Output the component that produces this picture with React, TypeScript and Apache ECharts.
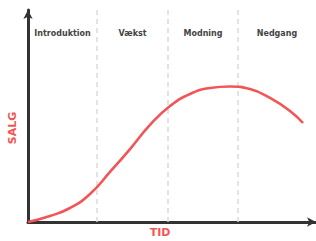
import React, { useEffect, useRef } from "react";
import * as echarts from "echarts";

const phases = ["Introduktion", "Vækst", "Modning", "Nedgang"];
const phaseBounds = [0, 24, 48.6, 72.9, 100];
const curveX = [0, 7.64, 14.58, 21.53, 28.47, 35.42, 42.36, 49.31, 56.25, 63.19, 70.14, 77.08, 84.03, 90.97, 95.49];
const curveY = [0, 2.83, 6.6, 13.2, 23.6, 34.4, 45.8, 54.7, 60.4, 63.2, 63.9, 62.7, 58.5, 52.4, 46.7];
const yLabel = "SALG";
const xLabel = "TID";

export default function App() {
  const ref = useRef<HTMLDivElement>(null);
  useEffect(() => {
    if (!ref.current) return;
    const chart = echarts.init(ref.current, null, { renderer: "svg" });
    const red = "#f25555";
    const data = curveX.map((x, i) => [x, curveY[i]]);
    const areas = phases.map((p, i) => [
      { xAxis: phaseBounds[i], name: p },
      { xAxis: phaseBounds[i + 1] },
    ]);
    chart.setOption({
      animation: false,
      backgroundColor: "#ffffff",
      grid: { left: 28, right: 0, top: 10, bottom: 19 },
      xAxis: {
        type: "value",
        min: 0,
        max: 100,
        axisLine: {
          show: true,
          symbol: ["none", "arrow"],
          symbolSize: [7, 9],
          lineStyle: { color: "#333", width: 3 },
        },
        axisTick: { show: false },
        axisLabel: { show: false },
        splitLine: { show: false },
      },
      yAxis: {
        type: "value",
        min: 0,
        max: 100,
        axisLine: {
          show: true,
          symbol: ["none", "arrow"],
          symbolSize: [7, 9],
          lineStyle: { color: "#333", width: 3 },
        },
        axisTick: { show: false },
        axisLabel: { show: false },
        splitLine: { show: false },
      },
      graphic: [
        {
          type: "text",
          x: 12,
          y: 128,
          rotation: Math.PI / 2,
          style: {
            text: yLabel,
            fill: red,
            font: "bold 11px 'DejaVu Sans'",
            align: "center",
            verticalAlign: "middle",
          },
        },
        {
          type: "text",
          x: 160,
          y: 232,
          style: {
            text: xLabel,
            fill: red,
            font: "bold 11px 'DejaVu Sans'",
            align: "center",
            verticalAlign: "middle",
          },
        },
      ],
      series: [
        {
          type: "line",
          data,
          smooth: 0.5,
          showSymbol: false,
          lineStyle: { color: red, width: 2.6 },
          z: 5,
          markLine: {
            silent: true,
            symbol: ["none", "none"],
            label: { show: false },
            lineStyle: { color: "#dadada", type: [5, 4], width: 1.5 },
            data: phaseBounds.slice(1, 4).map((b) => ({ xAxis: b })),
          },
          markArea: {
            silent: true,
            itemStyle: { color: "rgba(0,0,0,0)" },
            label: {
              show: true,
              position: "insideTop",
              distance: 19,
              color: "#444",
              fontSize: 8,
              fontFamily: "DejaVu Sans",
              fontWeight: "bold",
            },
            data: areas,
          },
        },
      ],
    });
    return () => chart.dispose();
  }, []);
  return (
    <div
      ref={ref}
      style={{ position: "fixed", left: 0, top: 0, width: 316, height: 241, background: "#fff" }}
    />
  );
}
